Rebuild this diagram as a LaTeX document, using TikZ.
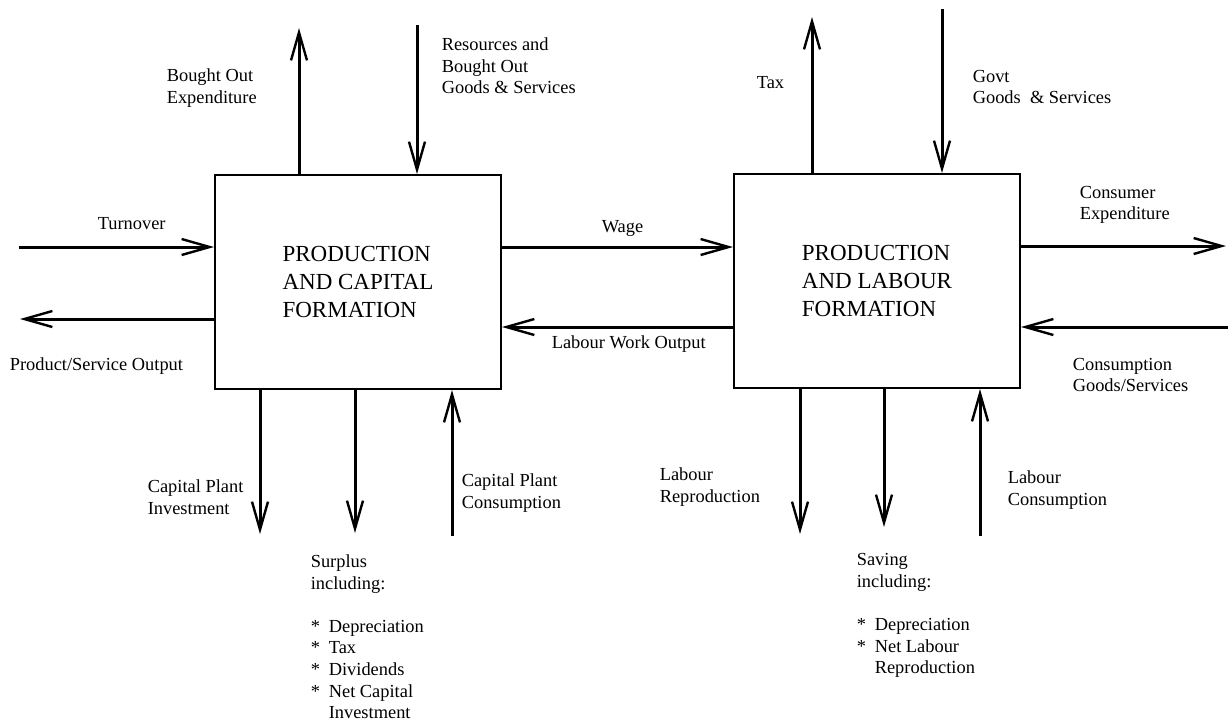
\documentclass[tikz,border=0pt]{standalone}
\usepackage{fontspec}
\setmainfont{Liberation Serif}
\usetikzlibrary{arrows.meta,positioning}

\begin{document}
\begin{tikzpicture}[x=0.5pt, y=-0.5pt, thick]

   \tikzstyle{sector}=[rectangle, draw, line width=1pt, minimum width=143pt, minimum height=107pt, align=left, font=\fontsize{11.5}{13.8}\selectfont]
   \tikzstyle{lbl}=[inner sep=0pt, align=left, anchor=west, font=\fontsize{9.2}{10.8}\selectfont]
   \tikzstyle{flow}=[line width=1.5pt, -{Straight Barb[length=14pt, width=8pt, line width=1.2pt]}]

   \useasboundingbox (0,0) rectangle (1228,720);

   % the two sectors
   \node[sector] (pcf) at (358,282) {PRODUCTION\\AND CAPITAL\\FORMATION};
   \node[sector] (plf) at (877,281) {PRODUCTION\\AND LABOUR\\FORMATION};

   % free ends of the flows
   \coordinate (boe) at (299,28);
   \coordinate (res) at (417,25);
   \coordinate (turn) at (19,247);
   \coordinate (pso) at (20,319);
   \coordinate (wg) at (600,247);
   \coordinate (lwo) at (600,327);
   \coordinate (tax) at (812,17);
   \coordinate (govt) at (942,9);
   \coordinate (cex) at (1226,246);
   \coordinate (cgs) at (1228,327);
   \coordinate (cpi) at (260,534);
   \coordinate (sur) at (355,533);
   \coordinate (cpc) at (452,536);
   \coordinate (lrp) at (800,534);
   \coordinate (sav) at (884,527);
   \coordinate (lcn) at (980,536);

   % flows of the capital sector
   \draw[flow] (boe |- pcf.north) -- (boe);
   \draw[flow] (res) -- (res |- pcf.north);
   \draw[flow] (turn) -- (turn -| pcf.west);
   \draw[flow] (pso -| pcf.west) -- (pso);
   \draw[flow] (cpi |- pcf.south) -- (cpi);
   \draw[flow] (sur |- pcf.south) -- (sur);
   \draw[flow] (cpc) -- (cpc |- pcf.south);

   % flows between the sectors
   \draw[flow] (wg -| pcf.east) -- (wg -| plf.west);
   \draw[flow] (lwo -| plf.west) -- (lwo -| pcf.east);

   % flows of the labour sector
   \draw[flow] (tax |- plf.north) -- (tax);
   \draw[flow] (govt) -- (govt |- plf.north);
   \draw[flow] (cex -| plf.east) -- (cex);
   \draw[flow] (cgs) -- (cgs -| plf.east);
   \draw[flow] (lrp |- plf.south) -- (lrp);
   \draw[flow] (sav |- plf.south) -- (sav);
   \draw[flow] (lcn) -- (lcn |- plf.south);

   % labels
   \node[lbl] (l1) at (166,88) {Bought Out\\Expenditure};
   \node[lbl] (l2) at (441,66) {Resources and\\Bought Out\\Goods \& Services};
   \node[lbl] (l3) at (97,224) {Turnover};
   \node[lbl] (l4) at (9,366) {Product/Service Output};
   \node[lbl] (l5) at (601,228) {Wage};
   \node[lbl] (l6) at (551,344) {Labour Work Output};
   \node[lbl] (l7) at (756,83) {Tax};
   \node[lbl] (l8) at (972,87) {Govt\\Goods\ \ \& Services};
   \node[lbl] (l9) at (1079,205) {Consumer\\Expenditure};
   \node[lbl] (l10) at (1072,375) {Consumption\\Goods/Services};
   \node[lbl] (l11) at (147,497) {Capital Plant\\Investment};
   \node[lbl] (l12) at (461,493) {Capital Plant\\Consumption};
   \node[lbl] (l13) at (659,487) {Labour\\Reproduction};
   \node[lbl] (l14) at (1007,490) {Labour\\Consumption};
   \node[lbl, anchor=north west] (l15) at (310,554) {Surplus\\including:\\[10.8pt]\makebox[9pt][l]{*}Depreciation\\\makebox[9pt][l]{*}Tax\\\makebox[9pt][l]{*}Dividends\\\makebox[9pt][l]{*}Net Capital\\\hspace*{9pt}Investment};
   \node[lbl, anchor=north west] (l16) at (856,553) {Saving\\including:\\[10.8pt]\makebox[9pt][l]{*}Depreciation\\\makebox[9pt][l]{*}Net Labour\\\hspace*{9pt}Reproduction};
\end{tikzpicture}
\end{document}
